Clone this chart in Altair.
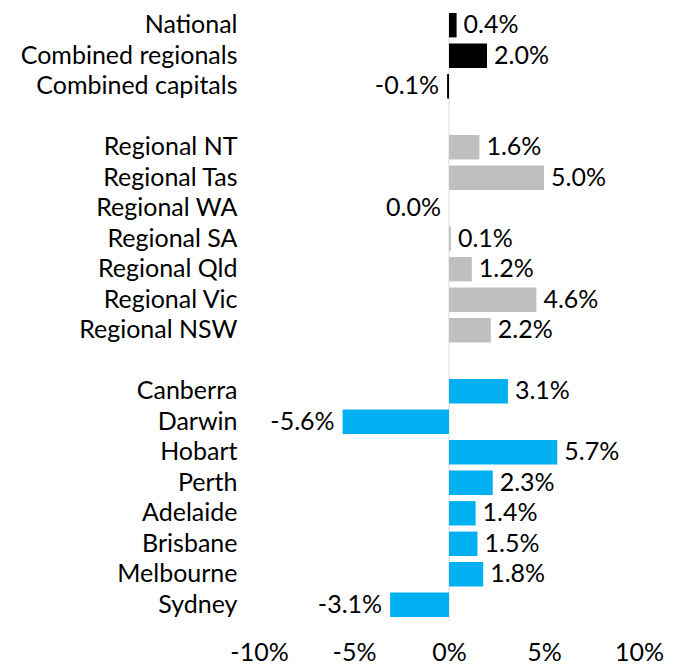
import altair as alt
import pandas as pd

categories = [
    "National", "Combined regionals", "Combined capitals", " ",
    "Regional NT", "Regional Tas", "Regional WA", "Regional SA",
    "Regional Qld", "Regional Vic", "Regional NSW", "  ",
    "Canberra", "Darwin", "Hobart", "Perth", "Adelaide",
    "Brisbane", "Melbourne", "Sydney",
]
values = [
    0.4, 2.0, -0.1, None,
    1.6, 5.0, 0.0, 0.1, 1.2, 4.6, 2.2, None,
    3.1, -5.6, 5.7, 2.3, 1.4, 1.5, 1.8, -3.1,
]
groups = [
    "summary", "summary", "summary", None,
    "regional", "regional", "regional", "regional", "regional", "regional", "regional", None,
    "capital", "capital", "capital", "capital", "capital", "capital", "capital", "capital",
]
x_ticks = [-10, -5, 0, 5, 10]

df = pd.DataFrame({"cat": categories, "value": values, "group": groups})
bars_df = df.dropna(subset=["value"]).copy()

FONT = "Lato"
FS = 25

y_enc = alt.Y(
    "cat:N",
    sort=categories,
    scale=alt.Scale(domain=categories, paddingInner=0.2, paddingOuter=0),
    axis=alt.Axis(
        title=None, domain=False, ticks=False, labelPadding=22,
        labelFont=FONT, labelFontSize=FS, labelColor="#000000",
        labelAlign="right", labelLimit=400,
    ),
)
x_scale = alt.Scale(domain=[-10, 10], nice=False)
x_enc = alt.X(
    "value:Q",
    scale=x_scale,
    axis=alt.Axis(
        title=None, domain=False, ticks=False, grid=False, values=x_ticks,
        labelExpr="datum.value + '%'", labelPadding=23, labelFlush=False,
        labelFont=FONT, labelFontSize=FS, labelColor="#000000",
    ),
)

base = alt.Chart(bars_df)

bars = base.mark_bar().encode(
    x=x_enc,
    x2=alt.datum(0),
    y=y_enc,
    color=alt.Color(
        "group:N",
        scale=alt.Scale(domain=["summary", "regional", "capital"],
                        range=["#000000", "#BFBFBF", "#00B0F0"]),
        legend=None,
    ),
)

rule = alt.Chart(pd.DataFrame({"z": [0]})).mark_rule(color="#D9D9D9", strokeWidth=1).encode(
    x=alt.X("z:Q", scale=x_scale),
    y=alt.value(0),
    y2=alt.value(608),
)

labels = base.transform_calculate(
    lab="(datum.value < 0 ? '-' : '') + format(abs(datum.value), '.1f') + '%'"
)

pos_text = labels.transform_filter("datum.value > 0").mark_text(
    align="left", baseline="middle", dx=7, font=FONT, fontSize=FS, color="#000000"
).encode(x=alt.X("value:Q", scale=x_scale), y=y_enc, text="lab:N")

neg_text = labels.transform_filter("datum.value <= 0").mark_text(
    align="right", baseline="middle", dx=-8, font=FONT, fontSize=FS, color="#000000"
).encode(x=alt.X("value:Q", scale=x_scale), y=y_enc, text="lab:N")

chart = alt.layer(rule, bars, pos_text, neg_text).properties(
    width=380, height=604, padding={"left": 12, "top": 4, "right": 0, "bottom": 0}
).configure_view(stroke=None)

chart.save("out.html", embed_options={"renderer": "svg", "actions": False})
